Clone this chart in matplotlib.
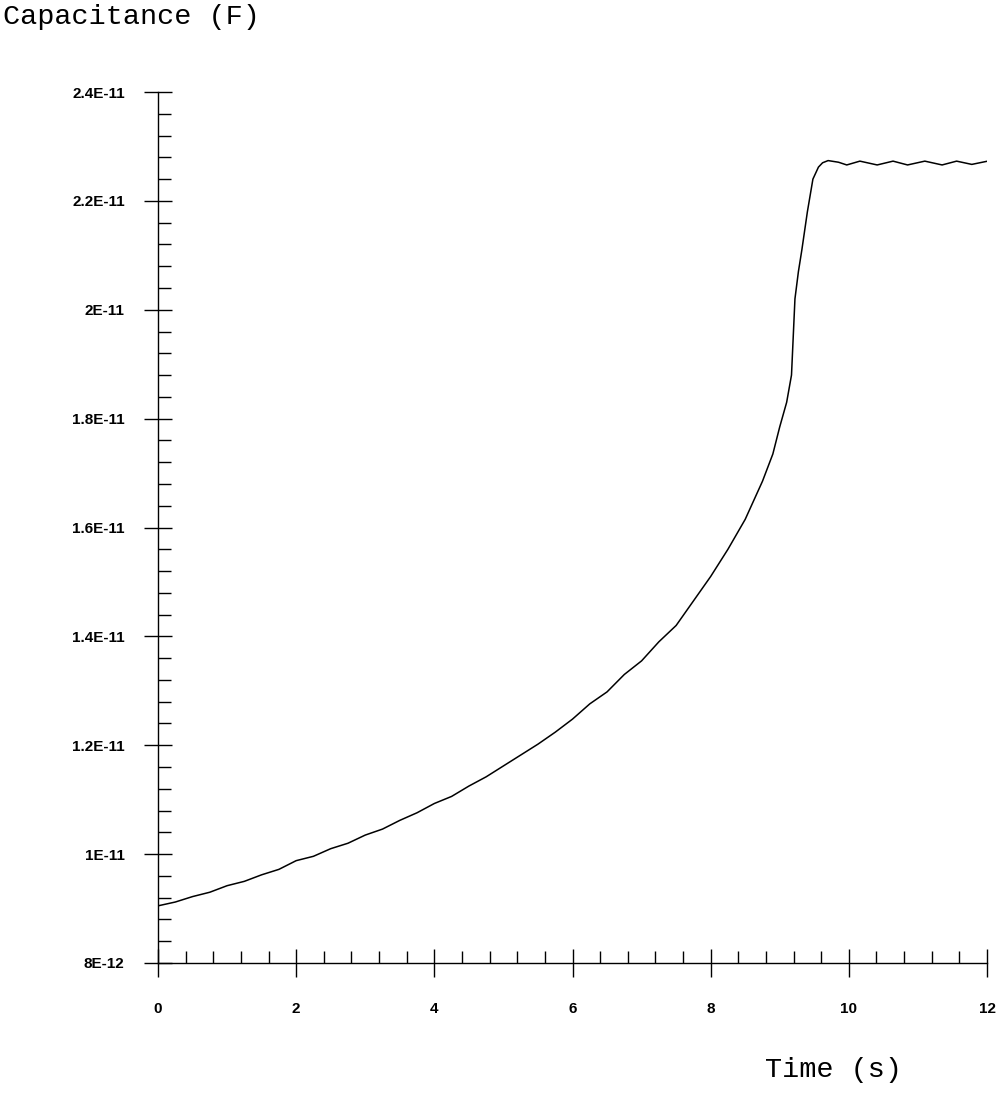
import matplotlib
matplotlib.use("Agg")
import matplotlib.pyplot as plt
from matplotlib.ticker import MultipleLocator

# Data (time in s, capacitance in pF -> F)
time_s = [0.0, 0.25, 0.5, 0.75, 1.0, 1.25, 1.5, 1.75, 2.0, 2.25, 2.5, 2.75,
          3.0, 3.25, 3.5, 3.75, 4.0, 4.25, 4.5, 4.75, 5.0, 5.25, 5.5, 5.75,
          6.0, 6.25, 6.5, 6.75, 7.0, 7.25, 7.5, 7.75, 8.0, 8.25, 8.5, 8.75,
          8.9, 9.0, 9.1, 9.17, 9.22, 9.27, 9.32, 9.4, 9.48, 9.56, 9.62, 9.7, 9.85, 9.97,
          10.16, 10.41, 10.64, 10.85, 11.1, 11.35, 11.56, 11.78, 12.01]
cap_pF = [9.05, 9.12, 9.22, 9.30, 9.42, 9.50, 9.62, 9.72, 9.88, 9.96, 10.10, 10.20,
          10.35, 10.46, 10.62, 10.76, 10.93, 11.06, 11.25, 11.42, 11.62, 11.82, 12.02, 12.24,
          12.48, 12.76, 12.98, 13.30, 13.55, 13.90, 14.20, 14.65, 15.10, 15.60, 16.15, 16.85,
          17.35, 17.85, 18.30, 18.80, 20.20, 20.70, 21.10, 21.80, 22.40, 22.62, 22.70, 22.74, 22.71, 22.66,
          22.73, 22.66, 22.73, 22.66, 22.73, 22.66, 22.73, 22.67, 22.73]
capacitance = [c * 1e-12 for c in cap_pF]

y_ticks = [8e-12, 1e-11, 1.2e-11, 1.4e-11, 1.6e-11, 1.8e-11, 2e-11, 2.2e-11, 2.4e-11]
y_labels = ["8E-12", "1E-11", "1.2E-11", "1.4E-11", "1.6E-11", "1.8E-11", "2E-11", "2.2E-11", "2.4E-11"]
x_ticks = [0, 2, 4, 6, 8, 10, 12]

W, H = 1000, 1096
fig = plt.figure(figsize=(W / 100, H / 100), dpi=100)
ax = fig.add_axes([158 / W, 1 - 963 / H, (987 - 158) / W, (963 - 92) / H])

ax.plot(time_s, capacitance, color="black", lw=1.1)
ax.set_xlim(0, 12)
ax.set_ylim(8e-12, 2.4e-11)

for s in ["top", "right"]:
    ax.spines[s].set_visible(False)
for s in ["left", "bottom"]:
    ax.spines[s].set_linewidth(1.0)

ax.set_yticks(y_ticks)
ax.set_yticklabels(y_labels)
ax.set_xticks(x_ticks)
ax.set_xticklabels([str(v) for v in x_ticks])
ax.yaxis.set_minor_locator(MultipleLocator(0.4e-12))
ax.xaxis.set_minor_locator(MultipleLocator(0.4))

ax.tick_params(which="major", direction="inout", length=20, width=1.0, color="black")
ax.tick_params(which="minor", direction="in", length=9, width=1.0, color="black")
ax.tick_params(axis="y", which="major", pad=14)
ax.tick_params(axis="x", which="major", pad=18)
for lab in ax.get_xticklabels() + ax.get_yticklabels():
    lab.set_fontfamily("Liberation Sans")
    lab.set_fontsize(11)
    lab.set_fontweight("bold")

fig.text(3 / W, 1 - 17 / H, "Capacitance (F)", family="Liberation Mono",
         fontsize=20.5, ha="left", va="center")
fig.text(765 / W, 1 - 1070 / H, "Time (s)", family="Liberation Mono",
         fontsize=20.5, ha="left", va="center")

fig.savefig("out.png", dpi=100)
